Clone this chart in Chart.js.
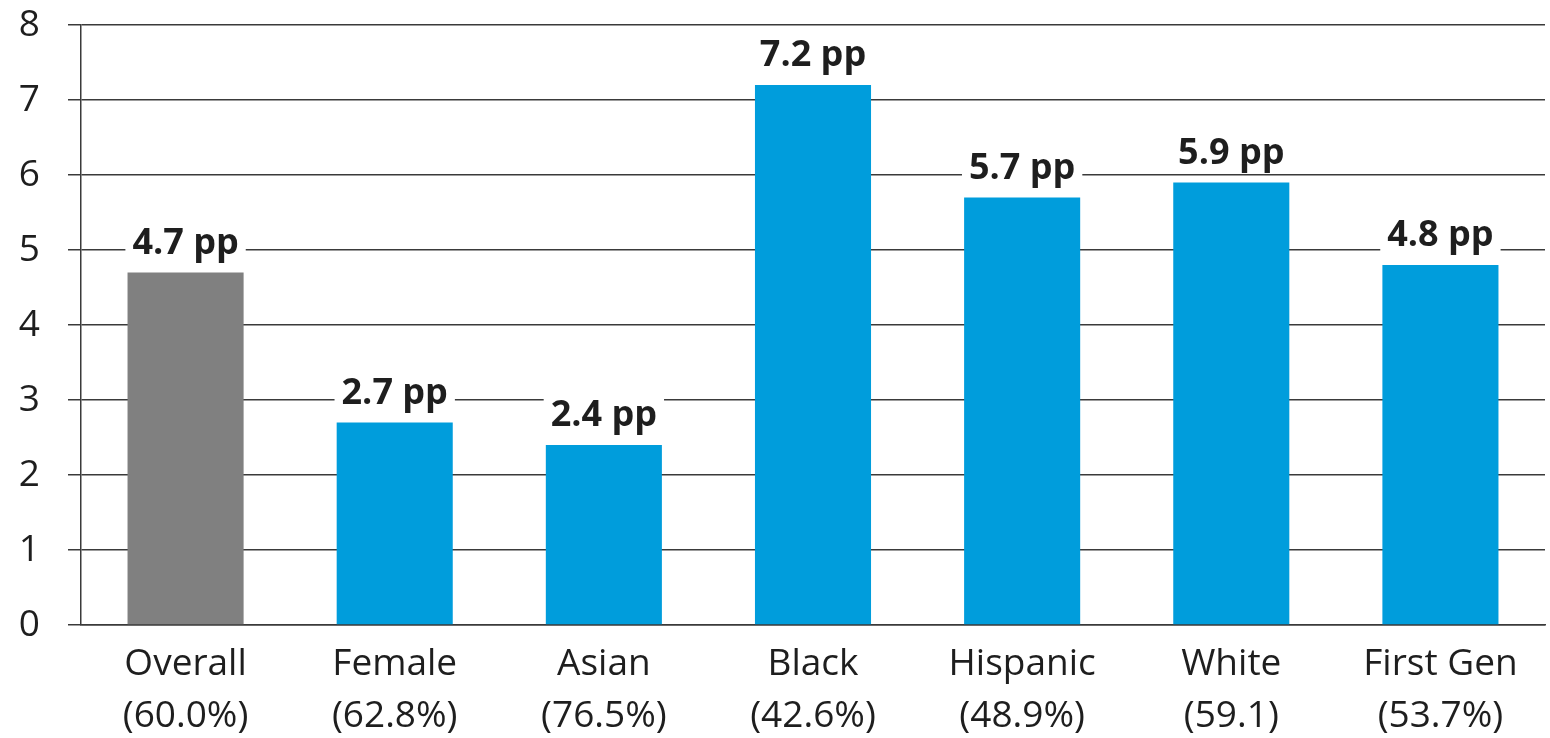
<!DOCTYPE html>
<html>
<head>
<meta charset="utf-8">
<script src="https://cdn.jsdelivr.net/npm/chart.js@4.4.1/dist/chart.umd.min.js"></script>
<style>
  html, body { margin: 0; padding: 0; background: #ffffff; }
  #wrap { width: 1550px; height: 738px; position: relative; }
</style>
</head>
<body>
<div id="wrap"><canvas id="chart"></canvas></div>
<script>
// Groups along the x axis, each with its base rate shown on a second line
const groups = ['Overall', 'Female', 'Asian', 'Black', 'Hispanic', 'White', 'First Gen'];
const baseRates = ['(60.0%)', '(62.8%)', '(76.5%)', '(42.6%)', '(48.9%)', '(59.1)', '(53.7%)'];
// Gap in percentage points for each group
const gapPP = [4.7, 2.7, 2.4, 7.2, 5.7, 5.9, 4.8];
// Y axis range and step
const yTicks = [0, 1, 2, 3, 4, 5, 6, 7, 8];

const GREY = '#808080';
const BLUE = '#009DDC';
const TEXT = '#1e1e1e';
const FONT = '"Open Sans", "Liberation Sans", sans-serif';

const labels = groups.map((g, i) => [g, baseRates[i]]);
const colors = groups.map((g, i) => i === 0 ? GREY : BLUE);

// Value labels above each bar, on a white box so gridlines pass behind the text
const valueLabels = {
  id: 'valueLabels',
  afterDatasetsDraw(chart) {
    const { ctx } = chart;
    const meta = chart.getDatasetMeta(0);
    ctx.save();
    ctx.font = 'bold 36px ' + FONT;
    ctx.textAlign = 'center';
    ctx.textBaseline = 'alphabetic';
    meta.data.forEach((bar, i) => {
      const text = gapPP[i].toFixed(1) + ' pp';
      const w = ctx.measureText(text).width;
      const baseY = bar.y - 19;
      ctx.fillStyle = '#ffffff';
      ctx.fillRect(bar.x - w / 2 - 7, baseY - 31, w + 14, 40);
      ctx.fillStyle = TEXT;
      ctx.fillText(text, bar.x, baseY);
    });
    ctx.restore();
  }
};

new Chart(document.getElementById('chart'), {
  type: 'bar',
  data: {
    labels: labels,
    datasets: [{
      data: gapPP,
      backgroundColor: colors,
      borderWidth: 0,
      barPercentage: 0.555,
      categoryPercentage: 1.0
    }]
  },
  options: {
    responsive: true,
    maintainAspectRatio: false,
    animation: false,
    layout: { padding: { top: 25, right: 5, left: 0, bottom: 0 } },
    plugins: {
      legend: { display: false },
      tooltip: { enabled: false }
    },
    scales: {
      x: {
        grid: { display: false, drawTicks: false },
        border: { display: true, color: '#3a3a3a', width: 1.5 },
        ticks: {
          color: TEXT,
          font: { family: FONT, size: 37, lineHeight: 1.4 },
          padding: 14,
          maxRotation: 0,
          autoSkip: false
        },
        afterFit(scale) { scale.height = 113; }
      },
      y: {
        min: yTicks[0],
        max: yTicks[yTicks.length - 1],
        afterBuildTicks(scale) { scale.ticks = yTicks.map(v => ({ value: v })); },
        grid: { color: '#3a3a3a', lineWidth: 1.5, tickLength: 13, drawTicks: true },
        border: { display: true, color: '#3a3a3a', width: 1.5 },
        ticks: {
          color: TEXT,
          font: { family: FONT, size: 37 },
          padding: 28
        },
        afterFit(scale) {
          scale.width = 81;
          scale.paddingTop = 0;
          scale.paddingBottom = 0;
        }
      }
    }
  },
  plugins: [valueLabels]
});
</script>
</body>
</html>
